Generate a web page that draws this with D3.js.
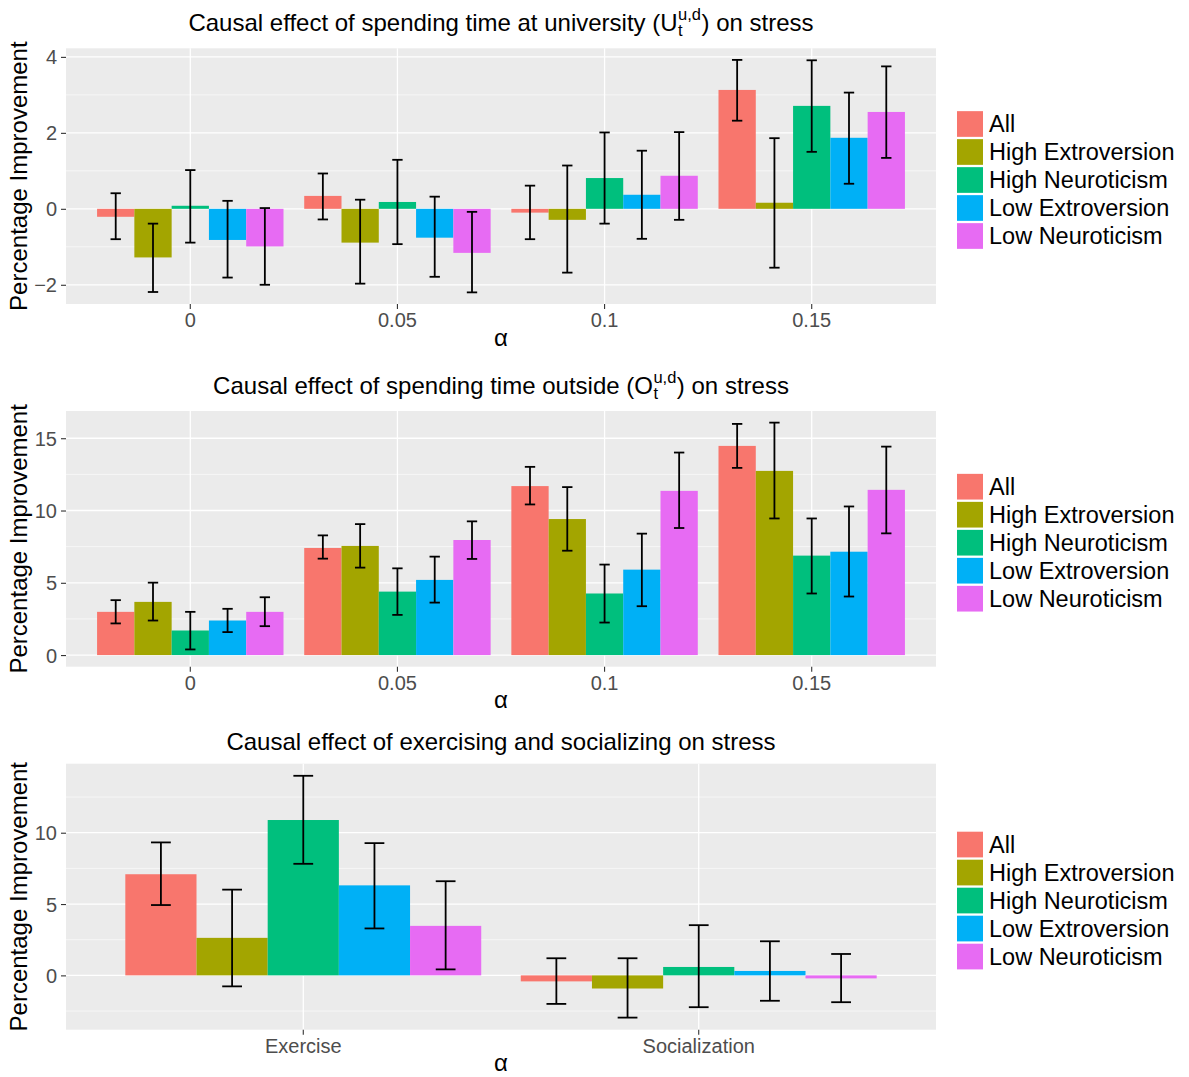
<!DOCTYPE html>
<html>
<head>
<meta charset="utf-8">
<script src="https://cdn.jsdelivr.net/npm/d3@7"></script>
<style>
  html, body { margin: 0; padding: 0; background: #ffffff; }
  svg { display: block; }
  text { font-family: "Liberation Sans", Arial, Helvetica, sans-serif; }
</style>
</head>
<body>
<script>
// Groups (legend order) and their fill colours
const groups = ["All", "High Extroversion", "High Neuroticism", "Low Extroversion", "Low Neuroticism"];
const groupColors = ["#F8766D", "#A3A500", "#00BF7D", "#00B0F6", "#E76BF3"];

// x categories
const alphaLevels = ["0", "0.05", "0.1", "0.15"];
const activities = ["Exercise", "Socialization"];

// Spending time at university: mean and error-bar limits, one row per alpha, one column per group
const uniMean = [
  [-0.21, -1.28, 0.08, -0.82, -0.99],
  [0.34, -0.89, 0.18, -0.76, -1.16],
  [-0.10, -0.29, 0.81, 0.37, 0.87],
  [3.13, 0.16, 2.71, 1.87, 2.55]
];
const uniLow = [
  [-0.80, -2.19, -0.89, -1.81, -2.00],
  [-0.28, -1.97, -0.93, -1.79, -2.20],
  [-0.80, -1.68, -0.39, -0.79, -0.29],
  [2.32, -1.55, 1.50, 0.66, 1.34]
];
const uniHigh = [
  [0.41, -0.39, 1.02, 0.21, 0.02],
  [0.93, 0.24, 1.29, 0.32, -0.08],
  [0.61, 1.14, 2.01, 1.53, 2.02],
  [3.92, 1.86, 3.91, 3.06, 3.75]
];

// Spending time outside
const outMean = [
  [2.99, 3.68, 1.70, 2.39, 2.99],
  [7.41, 7.55, 4.39, 5.20, 7.96],
  [11.69, 9.41, 4.26, 5.91, 11.36],
  [14.47, 12.74, 6.88, 7.15, 11.43]
];
const outLow = [
  [2.19, 2.39, 0.39, 1.59, 2.00],
  [6.67, 6.05, 2.78, 3.63, 6.65],
  [10.42, 7.22, 2.25, 3.38, 8.79],
  [12.95, 9.45, 4.26, 4.05, 8.42]
];
const outHigh = [
  [3.80, 5.01, 2.99, 3.20, 4.00],
  [8.28, 9.06, 6.00, 6.81, 9.25],
  [13.02, 11.62, 6.26, 8.40, 14.01],
  [15.99, 16.08, 9.45, 10.28, 14.42]
];

// Exercising and socializing
const actMean = [
  [7.09, 2.63, 10.89, 6.31, 3.47],
  [-0.42, -0.92, 0.59, 0.31, -0.21]
];
const actLow = [
  [4.93, -0.77, 7.82, 3.29, 0.42],
  [-2.00, -2.96, -2.23, -1.78, -1.88]
];
const actHigh = [
  [9.32, 6.01, 13.99, 9.27, 6.60],
  [1.20, 1.20, 3.52, 2.39, 1.50]
];

// Y tick values per panel
const uniTicks = [-2, 0, 2, 4];
const outTicks = [0, 5, 10, 15];
const actTicks = [0, 5, 10];

const W = 1189, H = 1077;
const svg = d3.select("body").append("svg").attr("width", W).attr("height", H);

const plotLeft = 66, plotRight = 936;
const FONT_TITLE = 24, FONT_TICK = 20, FONT_LEGEND = 23.5;

function rowsFrom(cats, mean, low, high) {
  const rows = [];
  cats.forEach((c, i) => groups.forEach((g, j) => {
    rows.push({ cat: c, group: g, color: groupColors[j], v: mean[i][j], lo: low[i][j], hi: high[i][j] });
  }));
  return rows;
}

// Title with a stacked subscript/superscript after the leading text
function drawTitle(g, parts, cx, baseline) {
  const t = g.append("text").attr("y", baseline).attr("font-size", FONT_TITLE).attr("fill", "#000");
  t.append("tspan").text(parts.pre);
  const preW = t.node().getComputedTextLength();
  const sup = g.append("text").attr("font-size", 16.5).attr("fill", "#000").text(parts.sup);
  const sub = g.append("text").attr("font-size", 16.5).attr("fill", "#000").text(parts.sub);
  const scriptW = Math.max(sup.node().getComputedTextLength(), sub.node().getComputedTextLength());
  const post = g.append("text").attr("y", baseline).attr("font-size", FONT_TITLE).attr("fill", "#000").text(parts.post);
  const postW = post.node().getComputedTextLength();
  const total = preW + scriptW + 1 + postW;
  const x0 = cx - total / 2;
  t.attr("x", x0);
  sup.attr("x", x0 + preW + 0.5).attr("y", baseline - 11);
  sub.attr("x", x0 + preW + 0.5).attr("y", baseline + 5);
  post.attr("x", x0 + preW + scriptW + 1);
}

function panel(cfg) {
  const g = svg.append("g");
  const { top, bottom, cats, rows, ticks } = cfg;

  const lo = d3.min(rows, d => Math.min(0, d.lo, d.v));
  const hi = d3.max(rows, d => Math.max(0, d.hi, d.v));
  const pad = (hi - lo) * 0.05;
  const y = d3.scaleLinear().domain([lo - pad, hi + pad]).range([bottom, top]);

  const x = d3.scaleBand().domain(cats).range([plotLeft, plotRight]).paddingInner(0.1).paddingOuter(0.15);
  const xg = d3.scaleBand().domain(groups).range([0, x.bandwidth()]).padding(0);
  const unit = x.step();

  // panel background
  g.append("rect").attr("x", plotLeft).attr("y", top)
    .attr("width", plotRight - plotLeft).attr("height", bottom - top).attr("fill", "#EBEBEB");

  // minor gridlines midway between major ticks
  const step = ticks[1] - ticks[0];
  const minor = [];
  for (let v = ticks[0] - step / 2; v <= y.domain()[1]; v += step) {
    if (v >= y.domain()[0]) minor.push(v);
  }
  g.selectAll(".minor").data(minor).join("line")
    .attr("x1", plotLeft).attr("x2", plotRight)
    .attr("y1", d => y(d)).attr("y2", d => y(d))
    .attr("stroke", "#FFFFFF").attr("stroke-width", 0.6);
  g.selectAll(".major").data(ticks).join("line")
    .attr("x1", plotLeft).attr("x2", plotRight)
    .attr("y1", d => y(d)).attr("y2", d => y(d))
    .attr("stroke", "#FFFFFF").attr("stroke-width", 1.3);
  g.selectAll(".vmajor").data(cats).join("line")
    .attr("x1", d => x(d) + x.bandwidth() / 2).attr("x2", d => x(d) + x.bandwidth() / 2)
    .attr("y1", top).attr("y2", bottom)
    .attr("stroke", "#FFFFFF").attr("stroke-width", 1.3);

  // bars
  g.selectAll(".bar").data(rows).join("rect")
    .attr("x", d => x(d.cat) + xg(d.group))
    .attr("width", xg.bandwidth())
    .attr("y", d => Math.min(y(d.v), y(0)))
    .attr("height", d => Math.abs(y(d.v) - y(0)))
    .attr("fill", d => d.color);

  // error bars
  const capW = unit * 0.05;
  const eb = g.selectAll(".eb").data(rows).join("g")
    .attr("transform", d => `translate(${x(d.cat) + xg(d.group) + xg.bandwidth() / 2},0)`);
  eb.append("line").attr("x1", 0).attr("x2", 0)
    .attr("y1", d => y(d.lo)).attr("y2", d => y(d.hi))
    .attr("stroke", "#000").attr("stroke-width", 1.8);
  eb.append("line").attr("x1", -capW / 2).attr("x2", capW / 2)
    .attr("y1", d => y(d.lo)).attr("y2", d => y(d.lo))
    .attr("stroke", "#000").attr("stroke-width", 1.8);
  eb.append("line").attr("x1", -capW / 2).attr("x2", capW / 2)
    .attr("y1", d => y(d.hi)).attr("y2", d => y(d.hi))
    .attr("stroke", "#000").attr("stroke-width", 1.8);

  // y axis
  const yAxis = d3.axisLeft(y).tickValues(ticks).tickSize(5).tickPadding(4)
    .tickFormat(d => d < 0 ? "\u2212" + Math.abs(d) : String(d));
  const ya = g.append("g").attr("transform", `translate(${plotLeft},0)`).call(yAxis);
  ya.select(".domain").remove();
  ya.selectAll(".tick line").attr("stroke", "#333333").attr("stroke-width", 1.1);
  ya.selectAll(".tick text").attr("fill", "#4D4D4D").attr("font-size", FONT_TICK)
    .attr("font-family", "Liberation Sans, Arial, sans-serif").attr("dy", "0.35em");

  // x axis
  const xAxis = d3.axisBottom(x).tickSize(5).tickPadding(3);
  const xa = g.append("g").attr("transform", `translate(0,${bottom})`).call(xAxis);
  xa.select(".domain").remove();
  xa.selectAll(".tick line").attr("stroke", "#333333").attr("stroke-width", 1.1);
  xa.selectAll(".tick text").attr("fill", "#4D4D4D").attr("font-size", FONT_TICK)
    .attr("font-family", "Liberation Sans, Arial, sans-serif")
    .attr("y", 23).attr("dy", null);

  // axis titles
  const cx = (plotLeft + plotRight) / 2;
  g.append("text").attr("x", cx).attr("y", bottom + 41.5).attr("text-anchor", "middle")
    .attr("font-size", FONT_TITLE).attr("fill", "#000").text("\u03B1");
  g.append("text")
    .attr("transform", `translate(27,${(top + bottom) / 2}) rotate(-90)`)
    .attr("text-anchor", "middle").attr("font-size", FONT_TITLE).attr("fill", "#000")
    .text("Percentage Improvement");

  // title
  if (cfg.title.sup) {
    drawTitle(g, cfg.title, cx, top - 17);
  } else {
    g.append("text").attr("x", cx).attr("y", top - 14).attr("text-anchor", "middle")
      .attr("font-size", FONT_TITLE).attr("fill", "#000").text(cfg.title.pre);
  }

  // legend
  const keyTop = (top + bottom) / 2 + 4 - (28 * groups.length - 2) / 2;
  const lg = g.append("g");
  groups.forEach((name, i) => {
    const ky = keyTop + i * 28;
    lg.append("rect").attr("x", 957).attr("y", ky).attr("width", 26).attr("height", 25.7)
      .attr("fill", groupColors[i]);
    lg.append("text").attr("x", 989).attr("y", ky + 12.85 + 8.4)
      .attr("font-size", FONT_LEGEND).attr("fill", "#000").text(name);
  });
}

panel({
  top: 48.3, bottom: 304, cats: alphaLevels, ticks: uniTicks,
  rows: rowsFrom(alphaLevels, uniMean, uniLow, uniHigh),
  title: { pre: "Causal effect of spending time at university (U", sup: "u,d", sub: "t", post: ") on stress" }
});
panel({
  top: 411, bottom: 666.7, cats: alphaLevels, ticks: outTicks,
  rows: rowsFrom(alphaLevels, outMean, outLow, outHigh),
  title: { pre: "Causal effect of spending time outside (O", sup: "u,d", sub: "t", post: ") on stress" }
});
panel({
  top: 763.7, bottom: 1029.7, cats: activities, ticks: actTicks,
  rows: rowsFrom(activities, actMean, actLow, actHigh),
  title: { pre: "Causal effect of exercising and socializing on stress" }
});
</script>
</body>
</html>
